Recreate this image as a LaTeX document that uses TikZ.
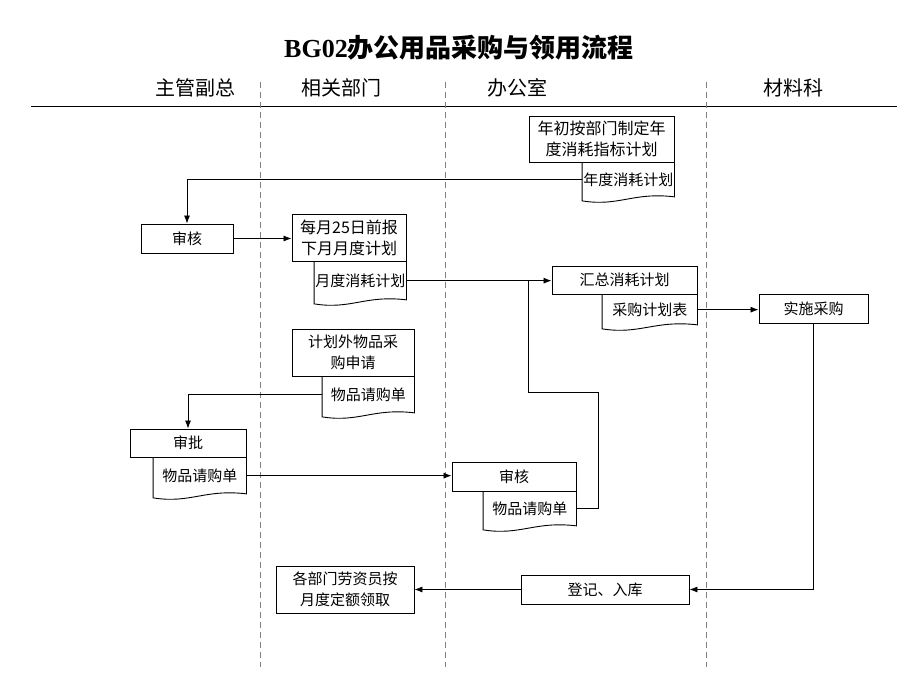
\documentclass[tikz,border=0pt]{standalone}
\usepackage{fontspec}
\setmainfont{Noto Sans CJK SC}
\newfontfamily\latinserif{Liberation Serif}
\usetikzlibrary{calc}
\usetikzlibrary{arrows.meta}

\tikzset{
  box/.style={draw, line width=0.9pt, inner sep=0pt, align=center, font=\fontsize{15}{21}\selectfont},
  docu/.style={inner sep=0pt, align=center, font=\fontsize{15}{21}\selectfont},
  lane/.style={font=\fontsize{20}{24}\selectfont},
  flow/.style={line width=0.8pt},
  arr/.style={flow, -{Latex[length=8pt,width=6pt]}},
  sep/.style={gray, line width=0.6pt, dash pattern=on 6pt off 4pt}
}

% document symbol: box with a wavy bottom edge
\newcommand{\wavedoc}[1]{%
  \draw[line width=0.9pt] (#1.north west) -- (#1.north east) -- (#1.south east)
    .. controls ($(#1.south east)!0.45!(#1.south west)+(0,-5)$) and ($(#1.south east)!0.6!(#1.south west)+(0,10)$) .. ($(#1.south west)+(0,4)$) -- cycle;}

\begin{document}
\begin{tikzpicture}[x=1pt,y=-1pt]
  \useasboundingbox (0,0) rectangle (920,690);

  \node (title) at (459,48) {\fontsize{26}{30}\selectfont\bfseries{\latinserif BG02}办公用品采购与领用流程};

  % lanes
  \node[lane] (lane1) at (195,88) {主管副总};
  \node[lane] (lane2) at (341,88) {相关部门};
  \node[lane] (lane3) at (517,88) {办公室};
  \node[lane] (lane4) at (793,88) {材料科};
  \draw[line width=1pt] (31,107) -- (897,107);
  \foreach \x in {260,445,706}
    \draw[sep] (\x,82) -- (\x,667);

  % steps
  \node[box, minimum width=145pt, minimum height=46pt, font=\fontsize{16}{21}\selectfont] (plan) at (601.5,139) {年初按部门制定年\\度消耗指标计划};
  \node[docu, minimum width=92pt, minimum height=34pt, anchor=north east] (plandoc) at (plan.south east) {年度消耗计划};

  \node[box, minimum width=92pt, minimum height=29pt] (rev) at (187,238.5) {审核};
  \node[box, minimum width=114pt, minimum height=47pt, font=\fontsize{16}{21}\selectfont] (month) at (349,237.5) {每月25日前报\\下月月度计划};
  \node[docu, minimum width=92pt, minimum height=38pt, anchor=north east] (monthdoc) at (month.south east) {月度消耗计划};

  \node[box, minimum width=145pt, minimum height=28pt] (summ) at (624.5,280) {汇总消耗计划};
  \node[docu, minimum width=95pt, minimum height=30pt, anchor=north east] (sumdoc) at (summ.south east) {采购计划表};
  \node[box, minimum width=109pt, minimum height=29pt] (buy) at (813.5,309) {实施采购};

  \node[box, minimum width=122pt, minimum height=47pt] (extra) at (353,352.5) {计划外物品采\\购申请};
  \node[docu, minimum width=92pt, minimum height=36pt, anchor=north east] (extradoc) at (extra.south east) {物品请购单};

  \node[box, minimum width=116pt, minimum height=28pt] (appr) at (188,443) {审批};
  \node[docu, minimum width=93pt, minimum height=36pt, anchor=north east] (apprdoc) at (appr.south east) {物品请购单};

  \node[box, minimum width=124pt, minimum height=29pt] (check) at (514,476.5) {审核};
  \node[docu, minimum width=93pt, minimum height=34pt, anchor=north east] (checkdoc) at (check.south east) {物品请购单};

  \node[box, minimum width=168pt, minimum height=29pt] (store) at (605,589.5) {登记、入库};
  \node[box, minimum width=138pt, minimum height=47pt] (issue) at (345,589.5) {各部门劳资员按\\月度定额领取};

  \foreach \d in {plandoc,monthdoc,sumdoc,extradoc,apprdoc,checkdoc}
    \wavedoc{\d};

  % flows
  \coordinate (loopl) at (528,392);
  \coordinate (loopr) at (598,392);
  \draw[arr] (plandoc.west) -| (rev.north);
  \draw[arr] (rev.east) -- (rev.east -| month.west);
  \draw[arr] (monthdoc.east) -- (monthdoc.east -| summ.west);
  \draw[flow] (checkdoc.east) -| (loopr) -- (loopl) -- (loopl |- summ.west);
  \draw[arr] (sumdoc.east) -- (sumdoc.east -| buy.west);
  \draw[arr] (buy.south) |- (store.east);
  \draw[arr] (store.west) -- (store.west -| issue.east);
  \draw[arr] (extradoc.west) -| (appr.north);
  \draw[arr] (apprdoc.east) -- (apprdoc.east -| check.west);
\end{tikzpicture}
\end{document}
